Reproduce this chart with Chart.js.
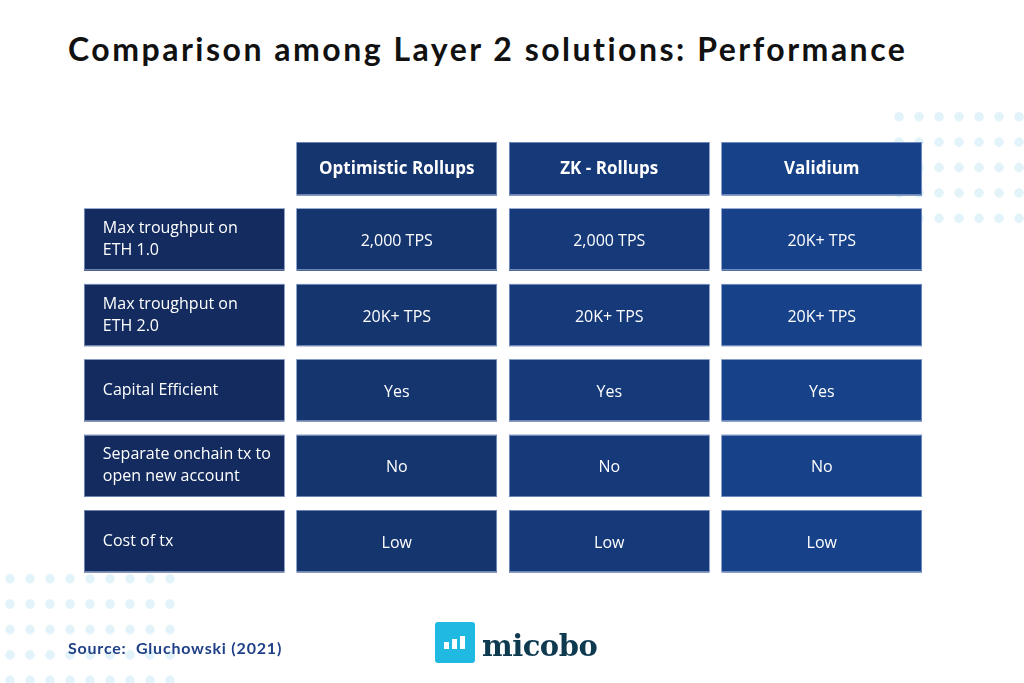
<!DOCTYPE html>
<html>
<head>
<meta charset="utf-8">
<script src="https://cdn.jsdelivr.net/npm/chart.js@4.4.1/dist/chart.umd.min.js"></script>
<style>
html, body { margin: 0; padding: 0; background: #fff; }
#wrap { position: relative; width: 1024px; height: 683px; overflow: hidden; }
.dots { position: absolute; background-image: radial-gradient(circle at center, #e2f4fa 4.4px, rgba(255,255,255,0) 5px); background-size: 20px 25.4px; }
.dots.tr { left: 889px; top: 104.3px; width: 140px; height: 127px; }
.dots.bl { left: 0px; top: 566.3px; width: 180px; height: 127px; }
h1 { position: absolute; left: 68px; top: 33px; margin: 0; font: 700 32px/32px Lato, sans-serif; letter-spacing: 2.5px; color: #111; white-space: nowrap; }
#tableChart { position: absolute; left: 0; top: 0; }
.source { position: absolute; left: 68px; top: 640px; font: 700 16px/16px Lato, sans-serif; letter-spacing: 0.8px; color: #1f3f87; white-space: nowrap; }
.logo-icon { position: absolute; left: 435px; top: 622px; width: 40px; height: 41px; background: #1fb9e1; border-radius: 3px; }
.logo-icon span { position: absolute; bottom: 14px; width: 5px; background: #fff; }
.logo-word { position: absolute; left: 482px; top: 632px; font: 700 29px/29px "DejaVu Serif", serif; color: #0e3a50; letter-spacing: -0.5px; }
</style>
</head>
<body>
<div id="wrap">
<div class="dots tr"></div>
<div class="dots bl"></div>
<h1>Comparison among Layer 2 solutions: Performance</h1>
<canvas id="tableChart" width="1024" height="683"></canvas>
<div class="source">Source:&nbsp; Gluchowski (2021)</div>
<div class="logo-icon"><span style="left:9px;height:7px"></span><span style="left:17px;height:10px"></span><span style="left:25px;height:13px"></span></div>
<div class="logo-word">micobo</div>
</div>

<script>
const columns = ["", "Optimistic Rollups", "ZK - Rollups", "Validium"]
const rowLabels = [
["Max troughput on", "ETH 1.0"],
["Max troughput on", "ETH 2.0"],
["Capital Efficient"],
["Separate onchain tx to", "open new account"],
["Cost of tx"]
]
const optimisticRollups = ["2,000 TPS", "20K+ TPS", "Yes", "No", "Low"]
const zkRollups = ["2,000 TPS", "20K+ TPS", "Yes", "No", "Low"]
const validium = ["20K+ TPS", "20K+ TPS", "Yes", "No", "Low"]

const columnColors = ["#132b5f", "#15356f", "#163a79", "#17428a"]

// HEADER ROW + BODY ROWS, one dataset per row

const datasets = []

datasets.push({
label: "header",
data: columns.map((c, i) => i === 0 ? null : [0, 1]),
cellText: columns.map(c => [c]),
bold: true,
backgroundColor: columnColors,
borderColor: "rgba(0,0,0,0)",
borderWidth: {top: 9, bottom: 13, left: 0, right: 0},
borderSkipped: false
})

rowLabels.forEach((lab, r) => {
datasets.push({
label: lab.join(" "),
data: columns.map(() => [r + 1, r + 2]),
cellText: [lab, [optimisticRollups[r]], [zkRollups[r]], [validium[r]]],
bold: false,
backgroundColor: columnColors,
borderColor: "rgba(0,0,0,0)",
borderWidth: {top: 0, bottom: 13, left: 0, right: 0},
borderSkipped: false
})
})

const cellTextPlugin = {
id: "cellText",
afterDatasetsDraw(chart){
const ctx = chart.ctx
chart.data.datasets.forEach((ds, di) => {
const meta = chart.getDatasetMeta(di)
meta.data.forEach((el, i) => {
if(ds.data[i] == null) return
const p = el.getProps(["x", "y", "base", "width"], true)
const bw = ds.borderWidth
const left = p.x - p.width / 2
const right = p.x + p.width / 2
const top = Math.min(p.y, p.base) + bw.top
const bottom = Math.max(p.y, p.base) - bw.bottom

ctx.save()
ctx.strokeStyle = "rgba(140,162,205,0.75)"
ctx.lineWidth = 1
ctx.strokeRect(Math.round(left) + 0.5, Math.round(top) + 0.5, Math.round(right - left) - 1, Math.round(bottom - top) - 1)

const lines = ds.cellText[i]
const lh = 22
let cy = (top + bottom) / 2
ctx.fillStyle = "#ffffff"
ctx.textBaseline = "middle"
ctx.font = ds.bold ? "700 17px 'Open Sans'" : "400 16px 'Open Sans'"
let tx
if(i === 0){
ctx.textAlign = "left"
tx = left + 19
} else {
ctx.textAlign = "center"
tx = (left + right) / 2
if(!ds.bold) cy += 2
}
lines.forEach((t, k) => {
ctx.fillText(t, tx, cy + (k - (lines.length - 1) / 2) * lh)
})
ctx.restore()
})
})
}
}

new Chart(document.getElementById("tableChart"), {
type: "bar",
data: {
labels: columns,
datasets: datasets
},
options: {
responsive: false,
devicePixelRatio: 1,
animation: false,
layout: {
padding: {left: 78, right: 96, top: 133, bottom: 97.6}
},
datasets: {
bar: {
grouped: false,
categoryPercentage: 1,
barPercentage: 0.945
}
},
scales: {
x: {type: "category", display: false, offset: true},
y: {type: "linear", display: false, min: 0, max: 6, reverse: true}
},
plugins: {
legend: {display: false},
tooltip: {enabled: false}
}
},
plugins: [cellTextPlugin]
})
</script>
</body>
</html>
